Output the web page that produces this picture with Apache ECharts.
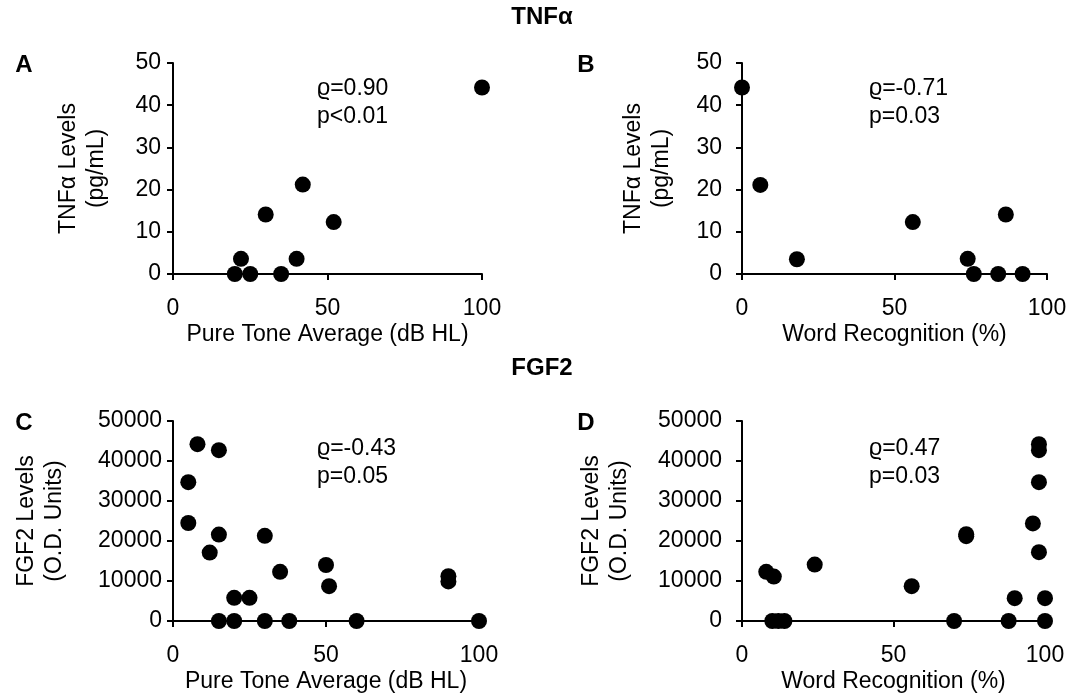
<!DOCTYPE html>
<html>
<head>
<meta charset="utf-8">
<script src="https://cdn.jsdelivr.net/npm/echarts@6/dist/echarts.min.js"></script>
<style>
html,body{margin:0;padding:0;background:#fff;}
#c{width:1084px;height:697px;}
</style>
</head>
<body>
<div id="c"></div>
<script>
// Panel A: TNFα vs Pure Tone Average
const A_x = [100, 42, 30, 52, 22, 40, 20, 25, 35];
const A_y = [44.2, 21.2, 14.1, 12.3, 3.6, 3.6, 0, 0, 0];
// Panel B: TNFα vs Word Recognition
const B_x = [0, 6, 18, 56, 86.5, 74, 76, 84, 92];
const B_y = [44.2, 21.1, 3.5, 12.3, 14.1, 3.6, 0, 0, 0];
// Panel C: FGF2 vs Pure Tone Average
const C_x = [8, 15, 5, 5, 15, 30, 12, 50, 35, 51, 90, 90, 20, 25, 15, 20, 30, 38, 60, 100];
const C_y = [44200, 42700, 34700, 24500, 21600, 21300, 17100, 14000, 12300, 8700, 11200, 9900, 5800, 5800, 0, 0, 0, 0, 0, 0];
// Panel D: FGF2 vs Word Recognition
const D_x = [98, 98, 98, 96, 74, 74, 98, 24, 8, 10.5, 56, 90, 100, 10, 12, 14, 70, 88, 100];
const D_y = [44200, 42700, 34700, 24400, 21200, 21700, 17200, 14100, 12300, 11100, 8700, 5700, 5700, 0, 0, 0, 0, 0, 0];

const xTicks = [0, 50, 100];
const tnfTicks = [0, 10, 20, 30, 40, 50];
const fgfTicks = [0, 10000, 20000, 30000, 40000, 50000];

const titles = ['TNFα', 'FGF2'];
const panelLabels = ['A', 'B', 'C', 'D'];
const xNames = ['Pure Tone Average (dB HL)', 'Word Recognition (%)', 'Pure Tone Average (dB HL)', 'Word Recognition (%)'];
const yNames = ['TNFα Levels\n(pg/mL)', 'TNFα Levels\n(pg/mL)', 'FGF2 Levels\n(O.D. Units)', 'FGF2 Levels\n(O.D. Units)'];
const stats = ['ϱ=0.90\np<0.01', 'ϱ=-0.71\np=0.03', 'ϱ=-0.43\np=0.05', 'ϱ=0.47\np=0.03'];

const FONT = '"Liberation Sans", Arial, Helvetica, sans-serif';
const FS = 23;
const chart = echarts.init(document.getElementById('c'));

const grids = [
  {left: 173, top: 63, width: 309, height: 211},
  {left: 742, top: 63, width: 305, height: 211},
  {left: 173, top: 421, width: 306, height: 200},
  {left: 742, top: 421, width: 303, height: 200}
];
const yLabelMargin = [12, 20, 11, 20];
const yNameGap = [62, 66, 104, 108];

function pairs(xs, ys){ return xs.map((v,i)=>[v, ys[i]]); }
const seriesData = [pairs(A_x,A_y), pairs(B_x,B_y), pairs(C_x,C_y), pairs(D_x,D_y)];

const axisLine = {show:true, onZero:false, lineStyle:{color:'#000', width:2}};
const axisTick = {show:true, inside:false, length:6, lineStyle:{color:'#000', width:2}};

const xAxes = grids.map((g,i)=>({
  type:'value', gridIndex:i, min:xTicks[0], max:xTicks[xTicks.length-1], interval:xTicks[1]-xTicks[0],
  axisLine, axisTick, splitLine:{show:false},
  axisLabel:{color:'#000', fontSize:FS, fontFamily:FONT, margin:23, formatter:v=>String(v)},
  name:xNames[i], nameLocation:'middle', nameGap:49,
  nameTextStyle:{color:'#000', fontSize:FS, fontFamily:FONT}
}));
const yAxes = grids.map((g,i)=>{
  const t = i<2 ? tnfTicks : fgfTicks;
  return {
    type:'value', gridIndex:i, min:t[0], max:t[t.length-1], interval:t[1]-t[0],
    axisLine, axisTick, splitLine:{show:false},
    axisLabel:{color:'#000', fontSize:FS, fontFamily:FONT, margin:yLabelMargin[i], formatter:v=>String(v)},
    name:yNames[i], nameLocation:'middle', nameGap:yNameGap[i], nameRotate:90,
    nameTextStyle:{color:'#000', fontSize:FS, fontFamily:FONT, lineHeight:28}
  };
});
const series = seriesData.map((d,i)=>({
  type:'scatter', xAxisIndex:i, yAxisIndex:i, data:d,
  symbol:'circle', symbolSize:16, itemStyle:{color:'#000', opacity:1}, silent:true
}));

const BF = 'bold 24px ' + FONT;
const graphic = [
  {type:'text', x:542, y:17, style:{text:titles[0], font:BF, fill:'#000', align:'center', verticalAlign:'middle'}},
  {type:'text', x:542, y:368, style:{text:titles[1], font:BF, fill:'#000', align:'center', verticalAlign:'middle'}},
  {type:'text', x:24, y:65, style:{text:panelLabels[0], font:BF, fill:'#000', align:'center', verticalAlign:'middle'}},
  {type:'text', x:586, y:65, style:{text:panelLabels[1], font:BF, fill:'#000', align:'center', verticalAlign:'middle'}},
  {type:'text', x:24, y:423, style:{text:panelLabels[2], font:BF, fill:'#000', align:'center', verticalAlign:'middle'}},
  {type:'text', x:586, y:423, style:{text:panelLabels[3], font:BF, fill:'#000', align:'center', verticalAlign:'middle'}},
  {type:'text', x:317, y:75, style:{text:stats[0], font:FS+'px '+FONT, fill:'#000', lineHeight:28}},
  {type:'text', x:869, y:75, style:{text:stats[1], font:FS+'px '+FONT, fill:'#000', lineHeight:28}},
  {type:'text', x:317, y:435, style:{text:stats[2], font:FS+'px '+FONT, fill:'#000', lineHeight:28}},
  {type:'text', x:869, y:435, style:{text:stats[3], font:FS+'px '+FONT, fill:'#000', lineHeight:28}}
];

chart.setOption({
  animation:false,
  backgroundColor:'#fff',
  grid:grids,
  xAxis:xAxes,
  yAxis:yAxes,
  series:series,
  graphic:graphic
});
</script>
</body>
</html>
